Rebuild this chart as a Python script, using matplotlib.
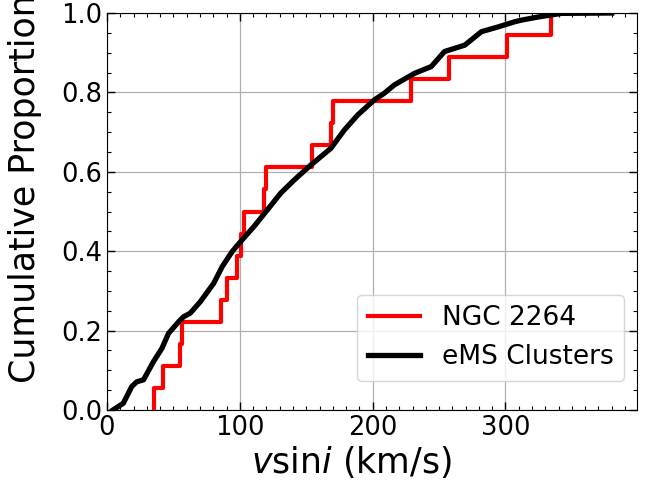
import numpy as np
import matplotlib
matplotlib.use("Agg")
import matplotlib.pyplot as plt
from matplotlib.ticker import MultipleLocator

# NGC 2264 vsini values (km/s)
ngc_vsini = [35.5, 42, 55, 56.5, 86, 90.5, 98, 101, 103, 118, 120,
             154, 169, 170.5, 229, 257.5, 301, 334]

# eMS clusters cumulative curve
ems_vsini = [4.5, 12.3, 18.6, 22.4, 27.5, 35, 41.3, 46.3, 55.2, 57.7, 62.7,
             70.3, 80.3, 86.7, 94.2, 100.5, 110.6, 120.7, 130.7, 140.8,
             153.4, 168.5, 178.6, 188.7, 201.2, 208.8, 216.4, 231.5, 244.1,
             254.1, 269.3, 281.9, 294.5, 307, 312, 324.7, 342, 380]
ems_prop = [0.0, 0.017, 0.059, 0.071, 0.076, 0.122, 0.155, 0.193, 0.227,
            0.235, 0.244, 0.273, 0.319, 0.361, 0.399, 0.424, 0.462, 0.504,
            0.546, 0.579, 0.617, 0.659, 0.705, 0.743, 0.781, 0.798, 0.819,
            0.848, 0.865, 0.903, 0.919, 0.953, 0.965, 0.978, 0.982, 0.99,
            0.999, 1.0]

fig = plt.figure(figsize=(6.55, 4.83), dpi=100)
ax = fig.add_axes([107/655, 1-410/483, 530/655, 397/483])

x = np.sort(np.array(ngc_vsini))
n = len(x)
y = np.arange(1, n + 1) / n
ax.step(np.concatenate([[x[0]], x]), np.concatenate([[0.0], y]),
        where='post', color='red', lw=3, label='NGC 2264', zorder=3)
ax.plot(ems_vsini, ems_prop, color='black', lw=3.8, label='eMS Clusters', zorder=4)

ax.set_xlim(0, 399)
ax.set_ylim(0, 1.0)
ax.xaxis.set_major_locator(MultipleLocator(100))
ax.xaxis.set_minor_locator(MultipleLocator(10))
ax.yaxis.set_major_locator(MultipleLocator(0.2))
ax.yaxis.set_minor_locator(MultipleLocator(0.05))
ax.tick_params(which='both', direction='in', top=True, right=True, labelsize=18.5)
ax.tick_params(which='major', length=6, width=1)
ax.tick_params(which='minor', length=3, width=0.8)
ax.grid(True, which='major', color='#b0b0b0', lw=0.9)
ax.set_axisbelow(True)

ax.set_xlabel(r'$v$sin$i$ (km/s)', fontsize=25)
ax.set_ylabel('Cumulative Proportion', fontsize=25)
ax.xaxis.set_label_coords(0.462, -0.085)
ax.yaxis.set_label_coords(-0.122, 0.558)

ax.legend(loc='lower right', fontsize=19, bbox_to_anchor=(1.0, 0.04))

fig.savefig('out.png', dpi=100)
